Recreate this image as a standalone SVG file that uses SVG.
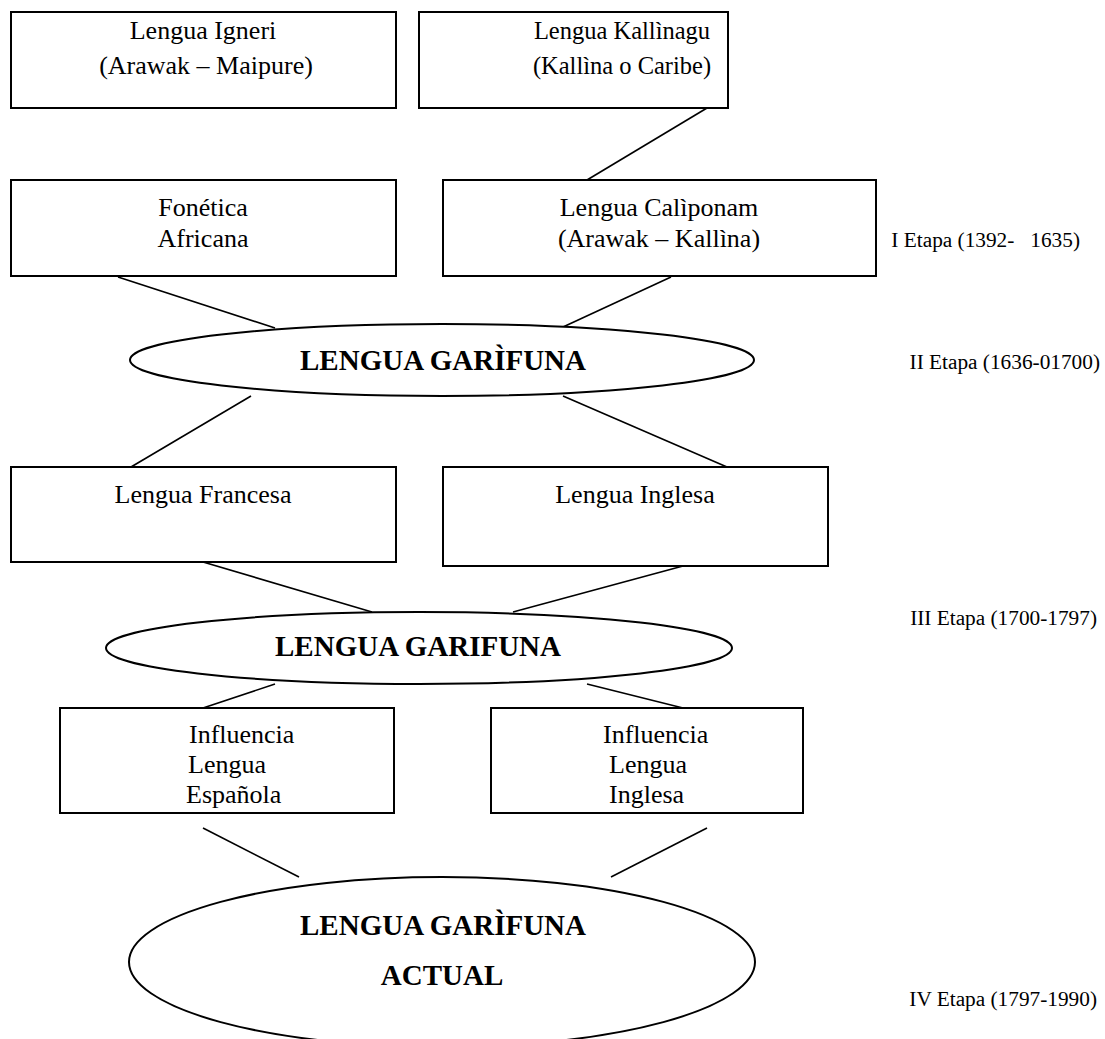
<svg xmlns="http://www.w3.org/2000/svg" width="1105" height="1039" viewBox="0 0 1105 1039">
<style>
  .box { fill: #fff; stroke: #000; stroke-width: 2; }
  .ell { fill: #fff; stroke: #000; stroke-width: 2; }
  .conn line { stroke: #000; stroke-width: 1.6; }
  .t { font-family: "Liberation Serif", "Times New Roman", serif; font-size: 26px; fill: #000; }
  .c { text-anchor: middle; }
  .s { font-size: 24.5px; }
  .b { font-family: "Liberation Serif", "Times New Roman", serif; font-size: 29px; font-weight: bold; fill: #000; text-anchor: middle; }
  .lbl { font-family: "Liberation Serif", "Times New Roman", serif; font-size: 21.3px; fill: #000; white-space: pre; text-anchor: end; }
</style>
<defs>
  <clipPath id="clip7"><rect x="60" y="708" width="334" height="100"/></clipPath>
  <clipPath id="clip8"><rect x="491" y="708" width="312" height="100"/></clipPath>
</defs>
<rect width="1105" height="1039" fill="#fff"/>

<g id="connectors" class="conn">
  <line x1="707" y1="108" x2="587" y2="180"/>
  <line x1="118" y1="277" x2="275" y2="328"/>
  <line x1="671" y1="277" x2="563" y2="327"/>
  <line x1="251" y1="396" x2="131" y2="467"/>
  <line x1="563" y1="396" x2="727" y2="467"/>
  <line x1="203" y1="562" x2="372" y2="612"/>
  <line x1="683" y1="566" x2="513" y2="612"/>
  <line x1="275" y1="684" x2="203" y2="708"/>
  <line x1="587" y1="684" x2="683" y2="708"/>
  <line x1="203" y1="828" x2="299" y2="877"/>
  <line x1="707" y1="828" x2="611" y2="877"/>
</g>

<g id="igneri">
  <rect class="box" x="11" y="12" width="385" height="96"/>
  <text class="t c" x="203" y="39">Lengua Igneri</text>
  <text class="t c" x="206" y="74">(Arawak – Maipure)</text>
</g>
<g id="kallinagu">
  <rect class="box" x="419" y="12" width="309" height="96"/>
  <text class="t c s" x="622" y="39">Lengua Kallìnagu</text>
  <text class="t c s" x="622" y="74">(Kallìna o Caribe)</text>
</g>
<g id="fonetica">
  <rect class="box" x="11" y="180" width="385" height="96"/>
  <text class="t c" x="203" y="216">Fonética</text>
  <text class="t c" x="203" y="247">Africana</text>
</g>
<g id="caliponam">
  <rect class="box" x="443" y="180" width="433" height="96"/>
  <text class="t c" x="659" y="216">Lengua Calìponam</text>
  <text class="t c" x="659" y="247">(Arawak – Kallìna)</text>
</g>
<g id="garifuna1">
  <ellipse class="ell" cx="442" cy="360" rx="312" ry="36"/>
  <text class="b" x="443" y="370">LENGUA GARÌFUNA</text>
</g>
<g id="francesa">
  <rect class="box" x="11" y="467" width="385" height="95"/>
  <text class="t c" x="203" y="503">Lengua Francesa</text>
</g>
<g id="inglesa">
  <rect class="box" x="443" y="467" width="385" height="99"/>
  <text class="t c" x="635" y="503">Lengua Inglesa</text>
</g>
<g id="garifuna2">
  <ellipse class="ell" cx="419" cy="648" rx="313" ry="36"/>
  <text class="b" x="418" y="656">LENGUA GARIFUNA</text>
</g>
<g id="influencia-espanola">
  <rect class="box" x="60" y="708" width="334" height="105"/>
  <g clip-path="url(#clip7)">
    <text class="t" x="189" y="743">Influencia</text>
    <text class="t" x="188" y="773">Lengua</text>
    <text class="t" x="186" y="803">Española</text>
  </g>
</g>
<g id="influencia-inglesa">
  <rect class="box" x="491" y="708" width="312" height="105"/>
  <g clip-path="url(#clip8)">
    <text class="t" x="603" y="743">Influencia</text>
    <text class="t" x="609" y="773">Lengua</text>
    <text class="t" x="609" y="803">Inglesa</text>
  </g>
</g>
<g id="garifuna-actual">
  <ellipse class="ell" cx="442" cy="962" rx="313" ry="85"/>
  <text class="b" x="443" y="935">LENGUA GARÌFUNA</text>
  <text class="b" x="442" y="985">ACTUAL</text>
</g>

<g id="etapas">
  <text class="lbl" x="1080" y="247" xml:space="preserve">I Etapa (1392-   1635)</text>
  <text class="lbl" x="1100" y="369">II Etapa (1636-01700)</text>
  <text class="lbl" x="1097" y="625">III Etapa (1700-1797)</text>
  <text class="lbl" x="1097" y="1006">IV Etapa (1797-1990)</text>
</g>
</svg>
